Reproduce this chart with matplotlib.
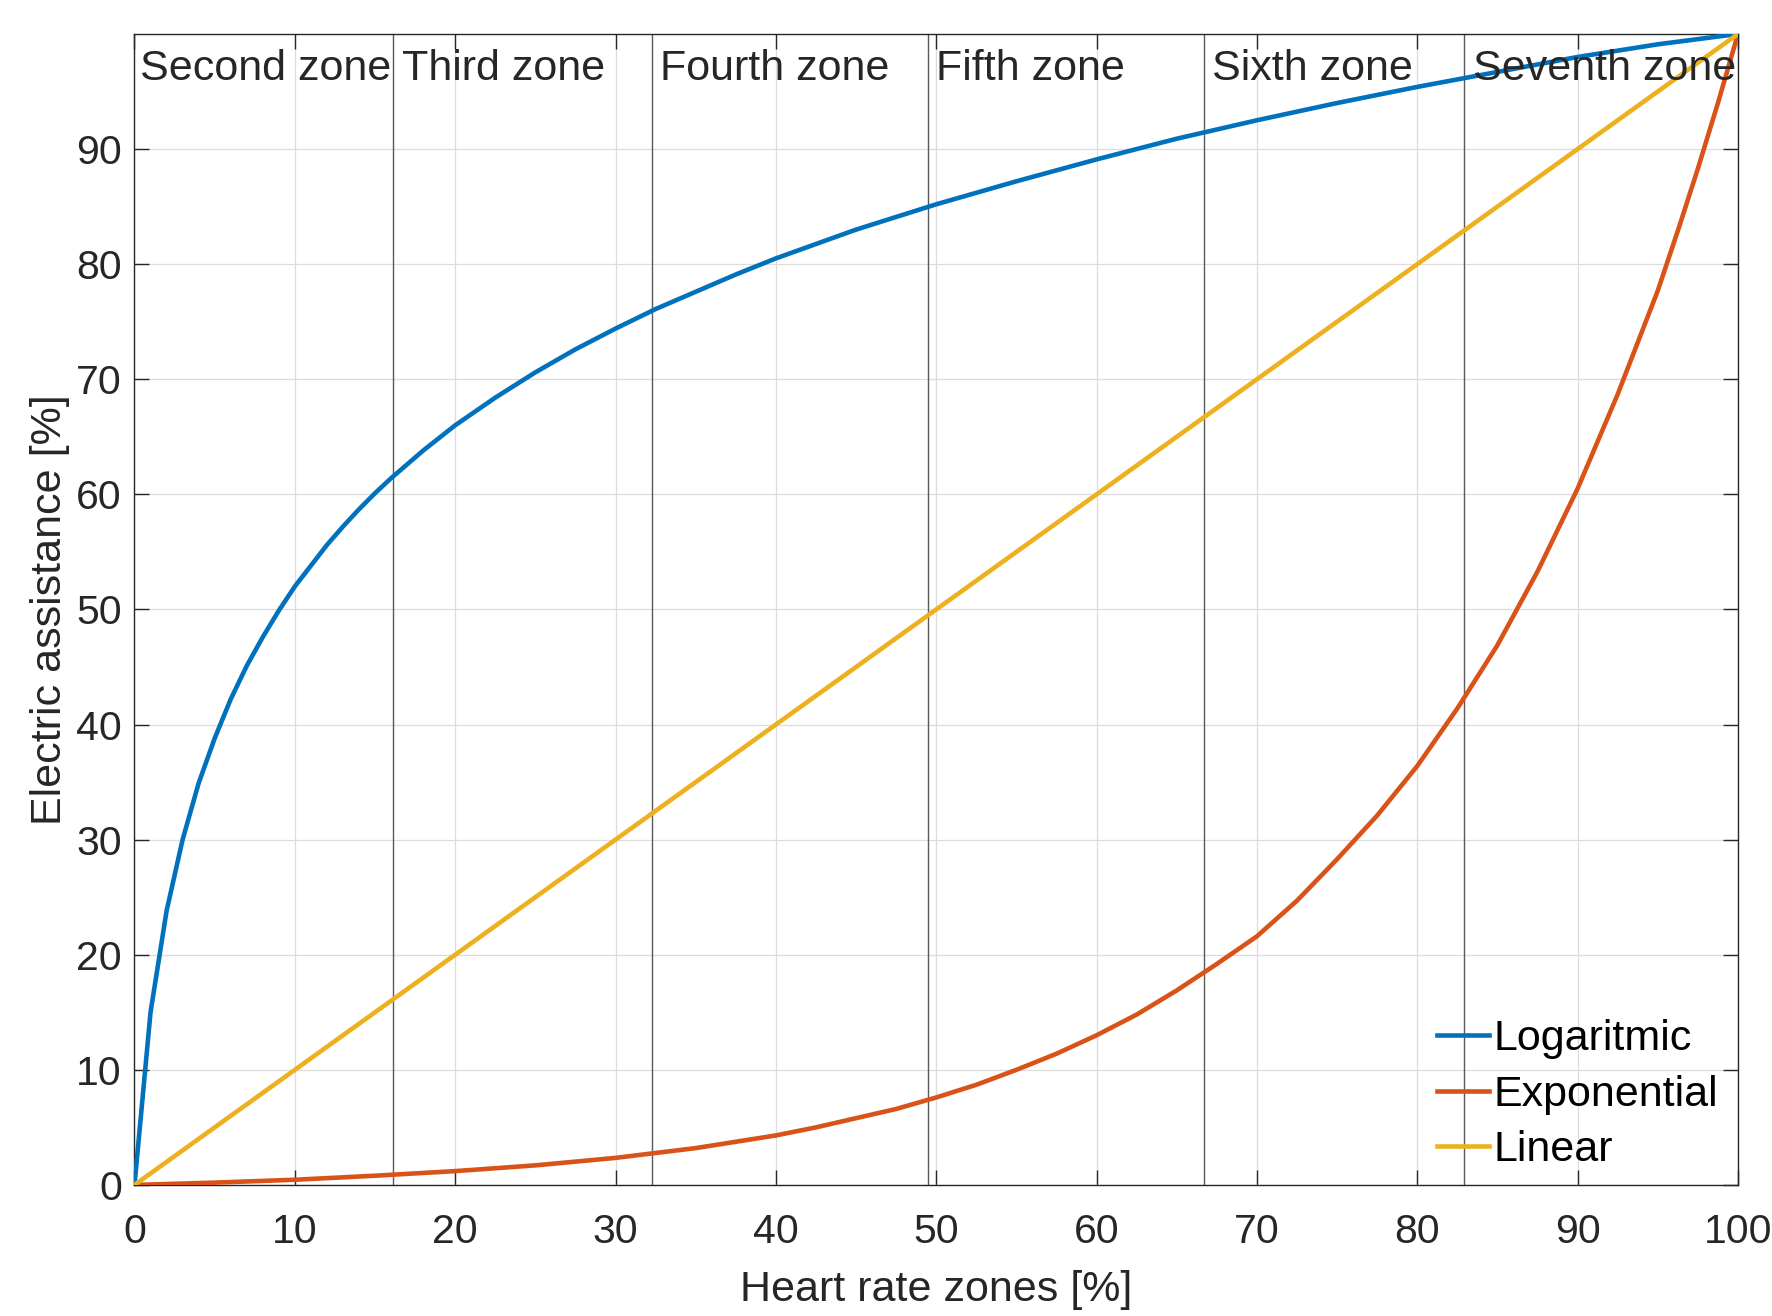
import numpy as np
import matplotlib
matplotlib.use("Agg")
import matplotlib.pyplot as plt

plt.rcParams['font.family'] = ['Liberation Sans', 'DejaVu Sans']

# heart rate zone [%] -> electric assistance [%]
x_log = [0, 1, 2, 3, 4, 5, 6, 7, 8, 9, 10, 11, 12, 13, 14, 15, 16, 17, 18,
         19, 20, 22.5, 25, 27.5, 30, 32.5, 35, 37.5, 40, 45, 50, 55, 60, 65,
         70, 75, 80, 85, 90, 95, 100]
y_log = [0, 15.0, 23.8, 30.0, 34.9, 38.8, 42.2, 45.1, 47.6, 49.9, 52.0, 53.8,
         55.6, 57.2, 58.7, 60.1, 61.4, 62.6, 63.8, 64.9, 66.0, 68.4, 70.6,
         72.6, 74.4, 76.1, 77.6, 79.1, 80.5, 83.0, 85.2, 87.2, 89.1, 90.9,
         92.5, 94.0, 95.4, 96.7, 98.0, 99.1, 100]

x_exp = [0, 5, 10, 15, 20, 25, 30, 35, 40, 42.5, 45, 47.5, 50, 52.5, 55,
         57.5, 60, 62.5, 65, 67.5, 70, 72.5, 75, 77.5, 80, 82.5, 85, 87.5,
         90, 92.5, 95, 96.25, 97.5, 98.75, 100]
y_exp = [0, 0.2, 0.45, 0.8, 1.2, 1.7, 2.35, 3.2, 4.3, 5.0, 5.8, 6.6, 7.6,
         8.7, 10.0, 11.4, 13.0, 14.8, 16.9, 19.2, 21.6, 24.7, 28.3, 32.1,
         36.4, 41.4, 46.9, 53.3, 60.5, 68.7, 77.7, 82.9, 88.3, 94.0, 100]

x_lin = [0, 100]
y_lin = [0, 100]

zone_bounds = [16.13, 32.26, 49.46, 66.67, 82.9]
zone_names = ['Second zone', 'Third zone', 'Fourth zone', 'Fifth zone',
              'Sixth zone', 'Seventh zone']
zone_label_x = [0.35, 16.7, 32.8, 50.0, 67.2, 83.45]

blue = '#0072BD'
orange = '#D95319'
yellow = '#EDB120'
dark = '#262626'

fig = plt.figure(figsize=(17.72, 13.16), dpi=100)
ax = fig.add_axes([0.0759, 0.0996, 0.9049, 0.8746])

ax.grid(True, color='#dcdcdc', lw=0.9)
ax.set_axisbelow(True)

for xb in zone_bounds:
    ax.axvline(xb, color='#5a5a5a', lw=1.0, zorder=1.5)

ax.plot(x_log, y_log, color=blue, lw=3.3, label='Logaritmic', zorder=3)
ax.plot(x_exp, y_exp, color=orange, lw=3.3, label='Exponential', zorder=3)
ax.plot(x_lin, y_lin, color=yellow, lw=3.3, label='Linear', zorder=3)

for xs, name in zip(zone_label_x, zone_names):
    ax.text(xs, 96.0, name, fontsize=31, color=dark, va='baseline',
            ha='left', zorder=4)

ax.set_xlim(0, 100)
ax.set_ylim(0, 100)
ax.set_xticks(np.arange(0, 101, 10))
ax.set_yticks(np.arange(0, 91, 10))

ax.tick_params(axis='both', direction='in', length=11, width=1.0,
               colors=dark, labelsize=29.5, top=True, right=True)
ax.tick_params(axis='x', pad=20.5)
ax.tick_params(axis='y', pad=9)
for sp in ax.spines.values():
    sp.set_color(dark)
    sp.set_linewidth(1.0)

ax.set_xlabel('Heart rate zones [%]', fontsize=31, color=dark)
ax.set_ylabel('Electric assistance [%]', fontsize=31, color=dark)
ax.xaxis.set_label_coords(0.5, -0.074)
ax.yaxis.set_label_coords(-0.040, 0.5)

ax.legend(loc='lower right', bbox_to_anchor=(0.997, 0.0), frameon=False,
          fontsize=31, handlelength=1.2, handletextpad=0.12,
          labelspacing=0.36, borderpad=0.2, borderaxespad=0.14)

fig.savefig('out.png', dpi=100)
